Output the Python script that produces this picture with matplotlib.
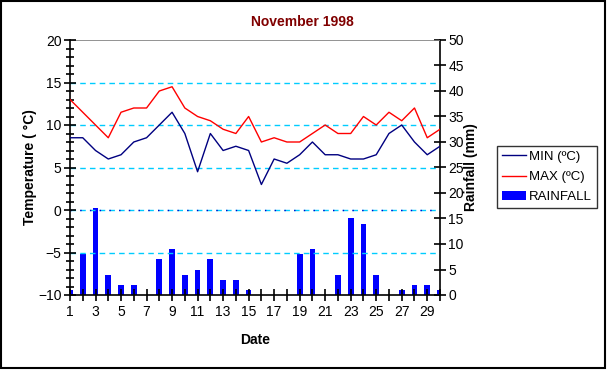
import numpy as np
import matplotlib
matplotlib.use("Agg")
import matplotlib.pyplot as plt
from matplotlib.patches import Rectangle, Patch
from matplotlib.lines import Line2D
from matplotlib.ticker import MultipleLocator

plt.rcParams['font.family'] = ['Liberation Sans', 'DejaVu Sans']

days = np.arange(1, 31)
t_min = [8.5, 8.5, 7, 6, 6.5, 8, 8.5, 10, 11.5, 9, 4.5, 9, 7, 7.5, 7,
         3, 6, 5.5, 6.5, 8, 6.5, 6.5, 6, 6, 6.5, 9, 10, 8, 6.5, 7.5]
t_max = [13, 11.5, 10, 8.5, 11.5, 12, 12, 14, 14.5, 12, 11, 10.5, 9.5, 9, 11,
         8, 8.5, 8, 8, 9, 10, 9, 9, 11, 10, 11.5, 10.5, 12, 8.5, 9.5]
rain = [1, 8, 17, 4, 2, 2, 0, 7, 9, 4, 5, 7, 3, 3, 1,
        0, 0, 0, 8, 9, 0, 4, 15, 14, 4, 0, 1, 2, 2, 1]

fig = plt.figure(figsize=(6.07, 3.70), dpi=100)
fig.patch.set_facecolor('white')
ax = fig.add_axes([70/607, 1-295/370, 370/607, 255/370])
ax2 = ax.twinx()

# rainfall bars on the secondary axis, drawn behind the temperature lines
ax2.bar(days, rain, width=0.45, color='#0000FF', zorder=2)
ax2.set_ylim(0, 50)
ax2.yaxis.set_major_locator(MultipleLocator(5))

ax.set_zorder(ax2.get_zorder() + 1)
ax.patch.set_visible(False)

for y in [5, 10, 15, -5]:
    ax.axhline(y, color='#00CCFF', lw=1, ls=(0, (4, 3)), zorder=1)
ax.axhline(0, color='#00CCFF', lw=1, ls=(0, (4, 3)), zorder=1)
ax.axhline(0, color='#0000CC', lw=1, ls=(0, (1, 6)), zorder=1)
ax.axhline(20, color='#808080', lw=1.2, zorder=1)

ax.plot(days, t_min, color='#000080', lw=1, zorder=3)
ax.plot(days, t_max, color='#FF0000', lw=1, zorder=3)

ax.set_xlim(1, 30)
ax.set_ylim(-10, 20)
ax.yaxis.set_major_locator(MultipleLocator(5))
ax.yaxis.set_minor_locator(MultipleLocator(1))
ax.set_xticks(days)
ax.set_xticklabels([str(d) if d % 2 else '' for d in days])

for a in (ax, ax2):
    a.spines['top'].set_visible(False)
    for s in a.spines.values():
        s.set_linewidth(1.2)
ax.spines['right'].set_visible(False)
ax2.spines['left'].set_visible(False)
ax2.spines['bottom'].set_visible(False)

ax.tick_params(axis='y', which='major', direction='inout', length=8, width=1.2, labelsize=10, pad=2)
ax.tick_params(axis='y', which='minor', direction='inout', length=6, width=1.2)
ax.tick_params(axis='x', direction='inout', length=8, width=1.2, labelsize=10, pad=3)
ax2.tick_params(axis='y', direction='inout', length=8, width=1.2, labelsize=10, pad=2)

ax.set_ylabel('Temperature ( °C)', fontsize=10, fontweight='bold', labelpad=1)
ax2.set_ylabel('Rainfall (mm)', fontsize=10, fontweight='bold', labelpad=0)
ax.set_xlabel('Date', fontsize=10, fontweight='bold', labelpad=10)

fig.text(302/607, 1-22/370, 'November 1998', ha='center', va='center',
         fontsize=10, fontweight='bold', color='#800000')

handles = [Line2D([], [], color='#000080', lw=1),
           Line2D([], [], color='#FF0000', lw=1),
           Patch(facecolor='#0000FF')]
leg = fig.legend(handles, ['MIN (ºC)', 'MAX (ºC)', 'RAINFALL'],
                 loc='center', bbox_to_anchor=(547/607, 1-177/370),
                 fontsize=9.5, frameon=True, fancybox=False, edgecolor='black',
                 handlelength=1.8, handletextpad=0.25, borderpad=0.35,
                 labelspacing=0.6, borderaxespad=0)
leg.get_frame().set_linewidth(1)

fig.patches.append(Rectangle((1/607, 2/370), 604/607, 367/370, transform=fig.transFigure,
                             fill=False, edgecolor='black', lw=1.5))

fig.savefig('out.png', dpi=100)
